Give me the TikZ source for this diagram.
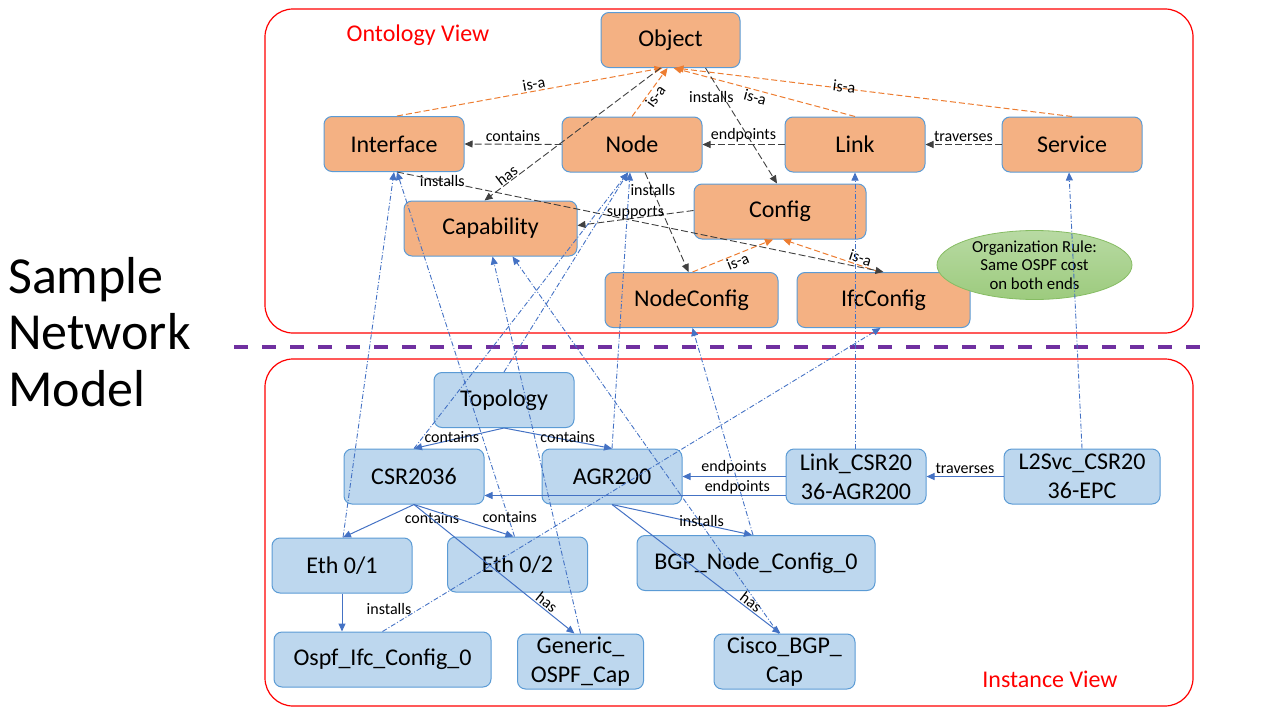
\documentclass[tikz,border=0pt]{standalone}
\usepackage{fontspec}
\setmainfont{Carlito}
\usetikzlibrary{arrows.meta,shapes.geometric}
\definecolor{ofill}{HTML}{F4B183}
\definecolor{bfill}{HTML}{BDD7EE}
\definecolor{bdr}{HTML}{5B9BD5}
\definecolor{gline}{HTML}{404040}
\definecolor{oline}{HTML}{ED7D31}
\definecolor{bline}{HTML}{4472C4}
\definecolor{pline}{HTML}{7030A0}
\definecolor{gtop}{HTML}{B8DAA3}
\definecolor{gbot}{HTML}{9DCB7E}
\definecolor{gdraw}{HTML}{86BC63}
\begin{document}
\begin{tikzpicture}[x=1pt,y=-1pt,
  box/.style={draw=bdr, line width=1pt, rounded corners=8pt, inner sep=0pt, minimum height=55pt, align=center, font=\fontsize{24}{29}\selectfont},
  onto/.style={box, fill=ofill},
  inst/.style={box, fill=bfill},
  lbl/.style={font=\fontsize{16}{19}\selectfont, inner sep=1pt, text=black},
  tip/.style={-{Triangle[length=8pt,width=7pt]}},
  gdash/.style={tip, draw=gline, line width=0.9pt, dash pattern=on 7pt off 3pt},
  isa/.style={tip, draw=oline, line width=1pt, dash pattern=on 6pt off 3pt},
  iof/.style={tip, draw=bline, line width=0.9pt, dash pattern=on 5pt off 2pt on 1pt off 2pt},
  rel/.style={tip, draw=bline, line width=1pt},
  view/.style={draw=red, line width=1.2pt, rounded corners=28pt},
  viewlbl/.style={text=red, font=\fontsize{24}{29}\selectfont, inner sep=0pt},
]
\useasboundingbox (0,0) rectangle (1280,720);

% views
\draw[view] (265,9) rectangle (1193,333);
\draw[view] (265,359) rectangle (1193,706);
\draw[pline, line width=4pt, dash pattern=on 14pt off 14pt] (234,347) -- (1202,347);

\node[viewlbl] (ontolbl) at (418,35) {Ontology View};
\node[viewlbl] (instlbl) at (1050,679) {Instance View};
\node[anchor=west, align=left, inner sep=0pt, font=\fontsize{52}{56.5}\selectfont] (title) at (8,332) {Sample\\Network\\Model};

% ontology nodes
\node[onto, minimum width=139pt] (Object) at (670.5,40) {Object};
\node[onto, minimum width=140pt] (Interface) at (394,144) {Interface};
\node[onto, minimum width=140pt] (Node) at (632,144.5) {Node};
\node[onto, minimum width=140pt] (Link) at (855,144.5) {Link};
\node[onto, minimum width=140pt] (Service) at (1072,144.5) {Service};
\node[onto, minimum width=173pt] (Capability) at (490.5,228.5) {Capability};
\node[onto, minimum width=172pt] (Config) at (780,211.5) {Config};
\node[onto, minimum width=173pt] (NodeConfig) at (691.5,300) {NodeConfig};
\node[onto, minimum width=173pt] (IfcConfig) at (883.5,300) {IfcConfig};
\node[ellipse, draw=gdraw, line width=0.8pt, top color=gtop, bottom color=gbot, minimum width=195pt, minimum height=66pt, inner sep=0pt, align=center, font=\fontsize{16.8}{18.5}\selectfont] (Rule) at (1034.5,265) {Organization Rule:\\Same OSPF cost\\on both ends};

% instance nodes
\node[inst, minimum width=140pt] (Topology) at (504,400) {Topology};
\node[inst, minimum width=140pt] (CSR) at (414,476.5) {CSR2036};
\node[inst, minimum width=140pt] (AGR) at (612,476.5) {AGR200};
\node[inst, minimum width=140pt] (LinkI) at (856,476.5) {Link\_CSR20\\36-AGR200};
\node[inst, minimum width=156pt] (Svc) at (1082,476.5) {L2Svc\_CSR20\\36-EPC};
\node[inst, minimum width=140pt] (Eth1) at (342,565.5) {Eth 0/1};
\node[inst, minimum width=140pt] (Eth2) at (517.5,564.5) {Eth 0/2};
\node[inst, minimum width=238pt] (BGPcfg) at (756,563) {BGP\_Node\_Config\_0};
\node[inst, minimum width=217pt] (Ospf) at (382.5,659.5) {Ospf\_Ifc\_Config\_0};
\node[inst, minimum width=126pt] (Generic) at (580.5,661.5) {Generic\_\\OSPF\_Cap};
\node[inst, minimum width=141pt] (Cisco) at (784.5,661.5) {Cisco\_BGP\_\\Cap};

% is-a (orange)
\draw[isa] ([xshift=3pt]Interface.north) -- ([xshift=-8pt]Object.south) node[lbl, pos=0.52, sloped, above] {is-a};
\draw[isa] (Node.north) -- ([xshift=-3pt]Object.south) node[lbl, pos=0.5, sloped, below] {is-a};
\draw[isa] (Link.north) -- ([xshift=3pt]Object.south) node[lbl, pos=0.54, sloped, below] {is-a};
\draw[isa] (Service.north) -- ([xshift=5pt]Object.south) node[lbl, pos=0.575, sloped, above=-5pt] {is-a};
\draw[isa] ([xshift=1pt]NodeConfig.north) -- ([xshift=-7pt]Config.south) node[lbl, pos=0.53, sloped, below] {is-a};
\draw[isa] ([xshift=-4pt]IfcConfig.north) -- ([xshift=3pt]Config.south) node[lbl, pos=0.22, sloped, above] {is-a};

% ontology relations (gray)
\draw[gdash] (Node.west) -- (Interface.east) node[lbl, midway, above=1pt] {contains};
\draw[gdash] (Link.west) -- (Node.east) node[lbl, midway, above=1pt] {endpoints};
\draw[gdash] (Service.west) -- (Link.east) node[lbl, midway, above=1pt] {traverses};
\draw[gdash] ([xshift=-10pt]Object.south) -- ([xshift=-6pt]Capability.north) node[lbl, pos=0.85, sloped, above] {has};
\draw[gdash] ([xshift=35pt]Object.south) -- ([xshift=-3pt]Config.north) node[lbl, pos=0.25, xshift=-12pt] {installs};
\draw[gdash] ([xshift=13pt]Node.south) -- ([xshift=-3pt]NodeConfig.north) node[lbl, pos=0.18] {installs};
\draw[gdash] ([xshift=3pt]Interface.south) -- (IfcConfig.north) node[lbl, pos=0.093] {installs};
\draw[gdash] ([yshift=1pt]Config.west) -- ([yshift=3pt]Capability.east) node[lbl, pos=0.5, above=-3pt] {supports};

% instance-of (blue dash-dot)
\draw[iof] ([xshift=1pt]Eth1.north) -- (Interface.south);
\draw[iof] ([xshift=-3pt]Eth2.north) -- ([xshift=3pt]Interface.south);
\draw[iof] (CSR.north) -- ([xshift=-4pt]Node.south);
\draw[iof] (Topology.north) -- ([xshift=-4pt]Node.south);
\draw[iof] (AGR.north) -- ([xshift=-2pt]Node.south);
\draw[iof] (Generic.north) -- ([xshift=2pt]Capability.south);
\draw[iof] ([xshift=-6pt]Cisco.north) -- ([xshift=22pt]Capability.south);
\draw[iof] ([xshift=-3pt]BGPcfg.north) -- ([xshift=1pt]NodeConfig.south);
\draw[iof] (Ospf.north) -- ([xshift=-3pt]IfcConfig.south);
\draw[iof] ([xshift=-1pt]LinkI.north) -- (Link.south);
\draw[iof] (Svc.north) -- ([xshift=-3pt]Service.south);

% instance relations (blue solid)
\draw[rel] (Topology.south) -- (CSR.north) node[lbl, pos=0.58, above=-4pt] {contains};
\draw[rel] (Topology.south) -- (AGR.north) node[lbl, pos=0.59, above=-4pt] {contains};
\draw[rel] (LinkI.west) -- (AGR.east) node[lbl, midway, above=1pt] {endpoints};
\draw[rel] ([yshift=-19pt]LinkI.west) -- ([yshift=-19pt]CSR.east) node[lbl, pos=0.16, above=0pt] {endpoints};
\draw[rel] (Svc.west) -- (LinkI.east) node[lbl, midway, above=1pt] {traverses};
\draw[rel] (CSR.south) -- ([xshift=1pt]Eth1.north) node[lbl, pos=0, xshift=18pt, yshift=-14pt] {contains};
\draw[rel] (CSR.south) -- ([xshift=-4pt]Eth2.north) node[lbl, pos=0.5, xshift=46pt, yshift=3pt] {contains};
\draw[rel] (CSR.south) -- ([xshift=-6pt]Generic.north) node[lbl, pos=0.8, sloped, above] {has};
\draw[rel] (AGR.south) -- ([xshift=-4pt]BGPcfg.north) node[lbl, pos=0.64, yshift=3pt] {installs};
\draw[rel] (AGR.south) -- ([xshift=-4pt]Cisco.north) node[lbl, pos=0.8, sloped, above] {has};
\draw[rel] (Eth1.south) -- (Eth1.south |- Ospf.north) node[lbl, pos=0.4, xshift=47pt] {installs};
\end{tikzpicture}
\end{document}
